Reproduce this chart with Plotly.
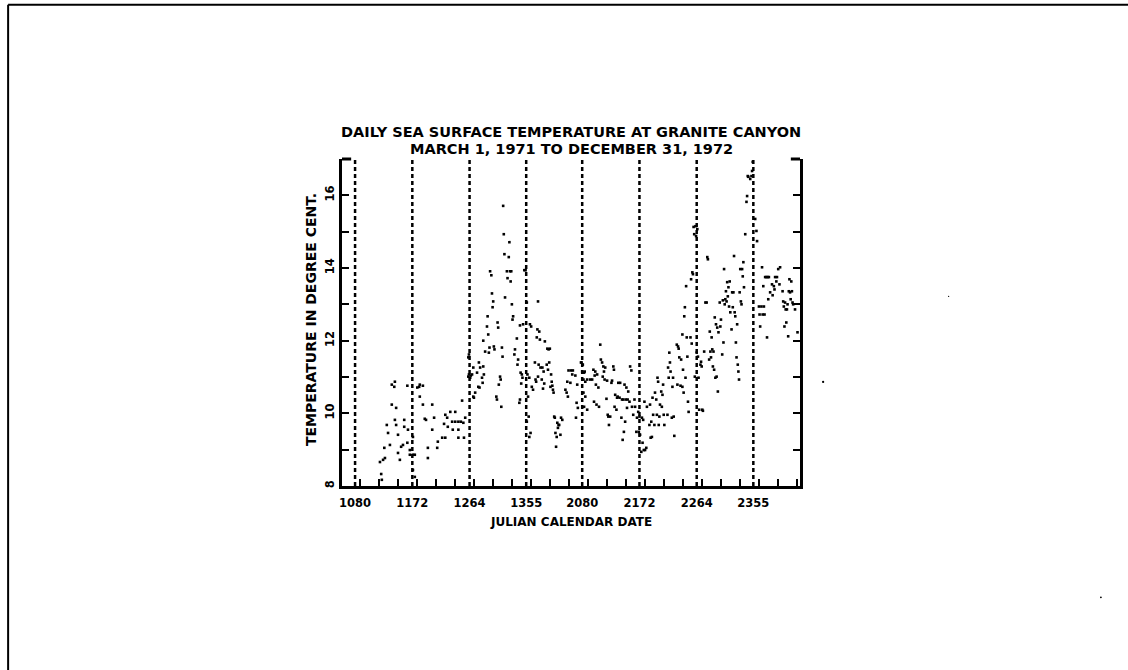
import plotly.graph_objects as go

# ---------------- data ----------------
# x: continuous day index (1971 day-of-year; 1972 days = 365 + day-of-year)
tick_days = [80, 172, 264, 355, 445, 537, 629, 720]
tick_labels = ["1080", "1172", "1264", "1355", "2080", "2172", "2264", "2355"]
season_marks = tick_days

y_ticks = [8, 9, 10, 11, 12, 13, 14, 15, 16]
y_tick_labels = ["8", "", "10", "", "12", "", "14", "", "16"]

day_1971_a = [120, 122, 123, 125, 128, 127, 133, 131, 136, 139, 139, 143, 144, 144, 146, 146, 149, 149,
              152, 154, 157, 159, 159, 164, 164, 165, 168, 168, 173, 173, 173, 176, 176, 180, 183, 184,
              184, 189, 189, 192, 194, 197, 197, 204, 204, 207, 212, 213, 220, 223, 225, 228, 229, 225,
              233, 236, 237, 241, 241, 246, 246, 246, 250, 252, 254, 255, 257]
temp_1971_a = [8.66, 8.33, 8.17, 8.72, 8.77, 9.05, 9.46, 9.68, 9.13, 10.24, 10.79, 10.73, 10.87, 9.82,
               10.15, 9.68, 9.41, 8.91, 8.72, 9.08, 9.13, 9.82, 9.63, 10.76, 9.19, 9.55, 8.99, 8.86,
               9.35, 8.86, 8.44, 8.86, 8.25, 10.71, 10.73, 10.79, 10.46, 10.76, 10.24, 9.85, 9.82, 9.05,
               8.77, 10.24, 9.55, 9.88, 9.05, 9.22, 9.33, 9.71, 9.96, 9.88, 9.63, 9.33, 10.04, 9.77,
               9.55, 10.04, 9.77, 9.77, 9.55, 9.33, 9.77, 10.35, 9.74, 9.33, 9.88]

day_1971_b = [262, 262, 263, 263, 265, 266, 268, 270, 270, 271, 273, 276, 278, 279, 280, 281, 284, 285,
              286, 286, 287, 289, 292, 294, 293, 295, 296, 297, 299, 300, 301, 302, 303, 304, 307, 308,
              309, 310, 311, 313, 314, 315, 316, 317, 318, 319, 320, 321, 324, 325, 328, 327, 329, 330,
              331, 332, 333, 334, 336, 337, 340, 341, 342, 344, 345, 346, 345, 348, 350, 349, 347, 352,
              354, 356, 357, 358, 360, 359, 356, 361, 363, 362, 360, 364, 366]
temp_1971_b = [11.54, 11.01, 11.62, 11.07, 10.98, 11.04, 11.07, 11.26, 10.46, 10.43, 10.57, 11.12, 10.73,
               11.40, 10.71, 11.26, 10.98, 10.84, 12.00, 11.29, 11.07, 11.70, 12.39, 12.17, 12.67, 11.67,
               11.81, 13.91, 13.80, 13.30, 12.92, 13.08, 11.84, 11.76, 10.46, 10.38, 12.50, 12.36, 10.79,
               11.01, 10.93, 10.18, 11.81, 11.56, 15.71, 14.93, 14.38, 13.19, 13.91, 13.72, 14.71, 14.30,
               13.91, 13.63, 13.91, 13.00, 12.58, 12.67, 11.62, 11.76, 12.06, 11.34, 11.48, 10.29, 12.42,
               11.12, 10.38, 11.07, 12.45, 10.98, 10.82, 13.94, 13.94, 13.05, 11.07, 10.46, 10.98, 9.91,
               9.77, 12.45, 12.39, 9.46, 9.35, 10.73, 10.65]

day_1972_a = [369, 370, 371, 373, 372, 374, 374, 375, 376, 377, 378, 381, 380, 382, 383, 384, 385, 389,
              388, 390, 391, 392, 393, 394, 395, 396, 397, 398, 399, 400, 401, 402, 403, 404, 405, 406,
              407, 408, 410, 411, 413, 418, 421, 420, 422, 423, 427, 426, 430, 429, 434, 437, 436, 438,
              435, 443, 444, 446, 445, 448, 449, 447, 450, 447, 450, 448, 453, 453, 458, 461, 463, 466,
              465, 469, 467, 464, 468, 471, 472, 474, 475, 477]
temp_1972_a = [11.40, 10.93, 10.87, 12.31, 12.09, 13.08, 11.01, 11.34, 12.25, 12.03, 11.26, 11.26, 10.93,
               10.68, 11.15, 10.82, 11.98, 11.78, 11.34, 11.20, 11.76, 11.40, 11.78, 10.73, 11.07, 10.87,
               10.76, 10.65, 10.57, 9.91, 9.88, 9.46, 9.08, 9.35, 9.74, 9.60, 9.68, 9.68, 9.41, 9.88,
               9.82, 10.65, 10.87, 10.57, 10.46, 11.18, 11.18, 10.84, 11.18, 11.07, 11.04, 10.79, 10.29,
               10.15, 9.88, 11.40, 11.40, 11.34, 11.15, 11.12, 11.15, 10.93, 10.87, 10.57, 10.46, 10.18,
               10.10, 10.93, 10.93, 10.93, 11.20, 11.15, 11.04, 11.07, 10.79, 10.32, 10.24, 10.71, 10.18,
               11.89, 11.48, 11.40]

day_1972_b = [479, 478, 480, 482, 481, 485, 484, 486, 487, 488, 490, 492, 493, 495, 496, 498, 497, 501,
              500, 503, 502, 506, 505, 509, 508, 510, 511, 512, 513, 514, 515, 516, 517, 519, 518, 522,
              521, 524, 525, 527, 529, 530, 532, 533, 535, 537, 536, 538, 541, 540, 543, 542, 544, 546,
              545, 548, 549, 554, 553, 555, 556, 557, 558, 559, 562, 561, 564, 566, 565, 567, 568, 570,
              569, 572, 574, 573, 575, 576, 577, 582]
temp_1972_b = [11.29, 11.01, 11.15, 11.26, 10.93, 10.90, 10.40, 9.96, 9.91, 9.68, 9.91, 10.84, 10.90,
               11.29, 11.20, 10.51, 10.18, 10.43, 10.10, 10.84, 10.46, 10.84, 10.43, 10.38, 9.88, 9.27,
               10.38, 9.49, 10.79, 9.77, 10.38, 10.71, 10.15, 10.60, 10.38, 11.29, 10.32, 11.18, 10.18,
               9.96, 10.38, 10.18, 9.49, 9.88, 10.04, 9.91, 9.49, 9.41, 9.88, 8.94, 9.82, 9.19, 8.99,
               8.99, 10.32, 9.05, 10.18, 10.24, 9.68, 9.33, 9.77, 9.35, 10.43, 9.96, 10.57, 9.68, 10.38,
               10.98, 9.96, 10.87, 9.68, 10.24, 9.91, 10.60, 10.51, 10.18, 10.79, 9.96, 9.68, 9.96]

day_1972_c = [583, 585, 584, 586, 587, 590, 589, 591, 592, 593, 598, 597, 599, 600, 601, 603, 604, 606,
              607, 608, 609, 606, 610, 611, 612, 614, 613, 615, 616, 619, 620, 621, 622, 623, 624, 625,
              627, 626, 628, 629, 630, 631, 632, 633, 635, 636, 638, 637, 639, 641, 643, 645, 646, 647,
              649, 651, 650, 652, 654, 653, 655, 656, 657, 659, 658, 660, 662, 661, 663, 664, 667, 666,
              668]
temp_1972_c = [11.26, 11.67, 10.98, 11.40, 11.15, 10.73, 9.88, 10.98, 9.91, 9.38, 10.79, 11.89, 11.84,
               11.78, 11.54, 10.76, 11.48, 10.73, 11.20, 10.57, 12.67, 12.17, 12.92, 10.98, 13.50, 11.56,
               12.09, 10.32, 10.04, 12.09, 13.69, 11.92, 13.88, 13.83, 15.13, 14.93, 15.15, 11.01, 14.88,
               11.67, 15.07, 11.56, 10.98, 10.10, 11.34, 11.42, 10.10, 11.29, 10.07, 11.70, 13.05, 13.05,
               14.30, 14.24, 11.48, 11.70, 12.25, 11.54, 11.76, 12.09, 11.29, 11.70, 11.20, 10.98, 12.64,
               12.45, 12.36, 11.01, 10.60, 12.23, 12.39, 13.05, 12.58]

day_1972_d = [670, 672, 673, 671, 675, 674, 677, 678, 679, 676, 680, 681, 682, 683, 686, 685, 687, 688,
              689, 690, 691, 692, 693, 694, 695, 696, 697, 698, 699, 700, 702, 701, 704, 703, 705, 707,
              709, 710, 711, 712, 715, 717, 718, 719, 723, 725, 726, 729, 730, 731, 734, 733, 735, 736,
              737, 739, 738, 741, 742, 743, 744, 745, 747, 750, 751, 753, 755, 754, 757, 758, 760, 763,
              762, 767, 768, 769, 771, 772, 770, 773, 775, 774, 776, 777, 779, 778, 780, 781, 782, 783,
              784, 787, 791]
temp_1972_d = [11.62, 11.95, 13.97, 13.11, 13.14, 13.00, 13.08, 13.61, 13.22, 13.36, 13.47, 12.94, 13.63,
               12.78, 13.33, 12.31, 12.92, 13.33, 14.33, 12.78, 12.67, 11.95, 11.54, 12.45, 11.34, 11.15,
               10.93, 13.33, 13.97, 13.08, 13.97, 13.00, 14.16, 13.77, 13.47, 14.93, 15.82, 15.98, 16.53,
               16.51, 16.45, 16.53, 16.67, 16.92, 15.35, 15.02, 14.74, 12.94, 12.72, 12.39, 14.02, 12.94,
               12.72, 13.50, 12.94, 13.75, 12.72, 13.75, 12.09, 13.75, 13.14, 13.75, 13.33, 13.55, 13.25,
               13.50, 13.75, 13.41, 13.63, 13.75, 13.97, 14.02, 13.55, 13.36, 13.08, 12.94, 13.05, 12.86,
               12.39, 12.50, 13.00, 12.86, 12.12, 13.36, 13.33, 13.69, 13.14, 13.63, 13.36, 13.05, 13.00,
               12.86, 12.23]

days = day_1971_a + day_1971_b + day_1972_a + day_1972_b + day_1972_c + day_1972_d
temps = temp_1971_a + temp_1971_b + temp_1972_a + temp_1972_b + temp_1972_c + temp_1972_d

# ---------------- figure ----------------
FONT = "DejaVu Sans"
fig = go.Figure()

fig.add_trace(go.Scatter(
    x=days, y=temps, mode="markers",
    marker=dict(symbol="square", size=2.6, color="black", line=dict(width=0)),
    showlegend=False, hoverinfo="x+y",
))

for d in season_marks:
    fig.add_shape(type="line", xref="x", yref="paper", x0=d, x1=d, y0=0, y1=1,
                  line=dict(color="black", width=2.5, dash="4px,3px"), layer="below")

# frame brackets at top corners
fig.add_shape(type="line", xref="paper", yref="paper", x0=0, x1=0.02, y0=1, y1=1,
              line=dict(color="black", width=3))
fig.add_shape(type="line", xref="paper", yref="paper", x0=0.98, x1=1, y0=1, y1=1,
              line=dict(color="black", width=3))

# page border (scanned document frame)
fig.add_shape(type="line", xref="paper", yref="paper", x0=-0.729, x1=1.72, y0=1.472, y1=1.472,
              line=dict(color="black", width=2))
fig.add_shape(type="line", xref="paper", yref="paper", x0=-0.729, x1=-0.729, y0=1.472, y1=-0.6,
              line=dict(color="black", width=2))

# stray scan specks outside the plot
for (sx, sy, r) in [(1.048, 0.315, 0.005), (1.655, -0.343, 0.004), (1.323, 0.578, 0.003)]:
    fig.add_shape(type="circle", xref="paper", yref="paper",
                  x0=sx, x1=sx + r, y0=sy, y1=sy + r * 1.3,
                  fillcolor="black", line=dict(width=0))

fig.add_annotation(text="DAILY SEA SURFACE TEMPERATURE AT GRANITE CANYON",
                   xref="paper", yref="paper", x=0.5, y=1.083, showarrow=False,
                   xanchor="center", yanchor="middle",
                   font=dict(family=FONT, size=14.5, color="black", weight="bold"))
fig.add_annotation(text="MARCH 1, 1971 TO DECEMBER 31, 1972",
                   xref="paper", yref="paper", x=0.5, y=1.03, showarrow=False,
                   xanchor="center", yanchor="middle",
                   font=dict(family=FONT, size=14.5, color="black", weight="bold"))
fig.add_annotation(text="JULIAN CALENDAR DATE",
                   xref="paper", yref="paper", x=0.5, y=-0.11, showarrow=False,
                   xanchor="center", yanchor="middle",
                   font=dict(family=FONT, size=12, color="black", weight="bold"))
fig.add_annotation(text="TEMPERATURE IN DEGREE CENT.",
                   xref="paper", yref="paper", x=-0.068, y=0.51, showarrow=False,
                   textangle=-90, xanchor="center", yanchor="middle",
                   font=dict(family=FONT, size=14, color="black", weight="bold"))

fig.update_xaxes(
    range=[59, 795], showgrid=False, zeroline=False,
    showline=True, linewidth=3, linecolor="black", mirror=False,
    tickmode="array", tickvals=tick_days, ticktext=tick_labels,
    ticks="", ticklabelstandoff=4,
    tickfont=dict(family=FONT, size=11.5, color="black", weight="bold"),
    minor=dict(tick0=88, dtick=30.5, ticks="inside", ticklen=7, tickwidth=2, tickcolor="black",
               showgrid=False),
)
fig.update_yaxes(
    range=[8, 17], showgrid=False, zeroline=False,
    showline=True, linewidth=3, linecolor="black", mirror="ticks",
    tickmode="array", tickvals=y_ticks, ticktext=y_tick_labels,
    ticks="inside", ticklen=7, tickwidth=2, tickcolor="black", tickangle=-90,
    tickfont=dict(family=FONT, size=11.5, color="black", weight="bold"),
)

fig.update_layout(
    width=1128, height=670, autosize=False,
    margin=dict(l=342, r=328, t=159, b=184),
    paper_bgcolor="white", plot_bgcolor="white",
)

fig.write_html("out.html", config={"displayModeBar": False},
               post_script="document.body.style.margin='0px';")
